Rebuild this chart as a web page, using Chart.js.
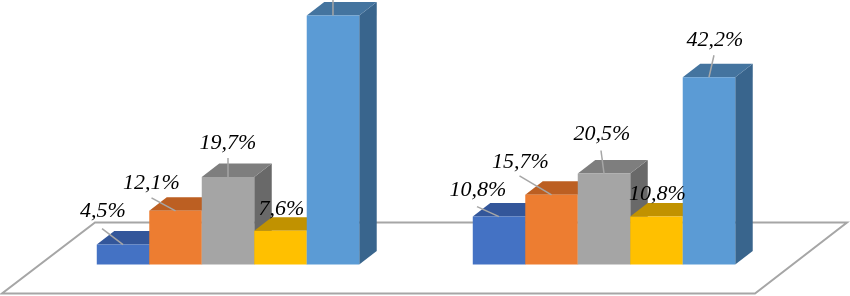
<!DOCTYPE html>
<html>
<head>
<meta charset="utf-8">
<style>
    html, body { margin: 0; padding: 0; background: #ffffff; }
    canvas { display: block; }
</style>
<script src="https://cdn.jsdelivr.net/npm/chart.js@4"></script>
</head>
<body>
<canvas id="chart" width="850" height="296"></canvas>
<script>
const categories = ['A', 'B'];
const seriesNames = ['Series 1', 'Series 2', 'Series 3', 'Series 4', 'Series 5'];
const series1 = [4.5, 10.8];
const series2 = [12.1, 15.7];
const series3 = [19.7, 20.5];
const series4 = [7.6, 10.8];
const series5 = [56.1, 42.2];
const allSeries = [series1, series2, series3, series4, series5];

const frontColors = ['#4472C4', '#ED7D31', '#A5A5A5', '#FFC000', '#5B9BD5'];
const topColors = ['#33569A', '#BC5F22', '#7E7E7E', '#C19200', '#44749F'];
const sideColors = ['#2A4880', '#9C4F1C', '#696969', '#A07A00', '#39658D'];

const depthX = 17.5;
const depthY = -13.5;

// text centre and leader line, relative to the top centre of the bar's front face
// [textDx, textDy, lineStartDx, lineStartDy, lineEndDx]
const labelLayout = [
    [
        [-20, -33, -21, -16, 0],
        [-24, -28, -24, -13, 0],
        [0, -34, 0, -19, 0],
        [1, -22, null, null, null],
        null
    ],
    [
        [-21, -26, -22, -10, 0],
        [-31, -33, -32, -19, 0],
        [-2, -39, -3, -23, 0],
        [1, -22, null, null, null],
        [6, -37, 5, -22, 0]
    ]
];

// painting left to right, so each bar's front and top hide the side of the one before
const boxPlugin = {
    id: 'box',
    beforeDatasetsDraw(chart) {
        const { ctx, chartArea } = chart;
        const floorBase = chartArea.bottom;
        ctx.save();
        ctx.strokeStyle = '#A6A6A6';
        ctx.lineWidth = 2;
        ctx.beginPath();
        ctx.moveTo(95, floorBase - 42);
        ctx.lineTo(847, floorBase - 42);
        ctx.lineTo(755, floorBase + 29);
        ctx.lineTo(2, floorBase + 29);
        ctx.closePath();
        ctx.stroke();
        ctx.restore();

        allSeries.forEach((values, i) => {
            chart.getDatasetMeta(i).data.forEach(bar => {
                const left = bar.x - bar.width / 2;
                const right = bar.x + bar.width / 2;
                ctx.save();
                ctx.fillStyle = sideColors[i];
                ctx.beginPath();
                ctx.moveTo(right, bar.y);
                ctx.lineTo(right + depthX, bar.y + depthY);
                ctx.lineTo(right + depthX, bar.base + depthY);
                ctx.lineTo(right, bar.base);
                ctx.closePath();
                ctx.fill();
                ctx.fillStyle = topColors[i];
                ctx.beginPath();
                ctx.moveTo(left, bar.y);
                ctx.lineTo(left + depthX, bar.y + depthY);
                ctx.lineTo(right + depthX, bar.y + depthY);
                ctx.lineTo(right, bar.y);
                ctx.closePath();
                ctx.fill();
                ctx.restore();
                bar.draw(ctx);
            });
        });
    },
    beforeDatasetDraw() {
        return false;
    }
};

const labelPlugin = {
    id: 'valueLabels',
    afterDatasetsDraw(chart) {
        const { ctx } = chart;
        ctx.save();
        ctx.font = 'italic 22px "Liberation Serif"';
        ctx.textAlign = 'center';
        ctx.textBaseline = 'middle';
        allSeries.forEach((values, i) => {
            const bars = chart.getDatasetMeta(i).data;
            values.forEach((v, c) => {
                const bar = bars[c];
                const layout = labelLayout[c][i];
                if (!layout) {
                    // label sits above the top of the picture, only the leader shows
                    ctx.strokeStyle = '#A6A6A6';
                    ctx.lineWidth = 1.5;
                    ctx.beginPath();
                    ctx.moveTo(bar.x, 0);
                    ctx.lineTo(bar.x, bar.y);
                    ctx.stroke();
                    return;
                }
                const [textDx, textDy, startDx, startDy, endDx] = layout;
                if (startDx !== null) {
                    ctx.strokeStyle = '#A6A6A6';
                    ctx.lineWidth = 1.5;
                    ctx.beginPath();
                    ctx.moveTo(bar.x + startDx, bar.y + startDy);
                    ctx.lineTo(bar.x + endDx, bar.y);
                    ctx.stroke();
                }
                ctx.fillStyle = '#000000';
                ctx.fillText(v.toFixed(1).replace('.', ',') + '%', bar.x + textDx, bar.y + textDy);
            });
        });
        ctx.restore();
    }
};

new Chart(document.getElementById('chart'), {
    type: 'bar',
    data: {
        labels: categories,
        datasets: allSeries.map((values, i) => ({
            label: seriesNames[i],
            data: values,
            backgroundColor: frontColors[i],
            borderWidth: 0,
            barPercentage: 1,
            categoryPercentage: 0.698
        }))
    },
    options: {
        responsive: false,
        animation: false,
        layout: { padding: { left: 40, right: 58, top: 0, bottom: 31.5 } },
        scales: {
            x: { display: false },
            y: { display: false, min: 0, max: 59.6 }
        },
        plugins: {
            legend: { display: false },
            tooltip: { enabled: false }
        }
    },
    plugins: [boxPlugin, labelPlugin]
});
</script>
</body>
</html>
